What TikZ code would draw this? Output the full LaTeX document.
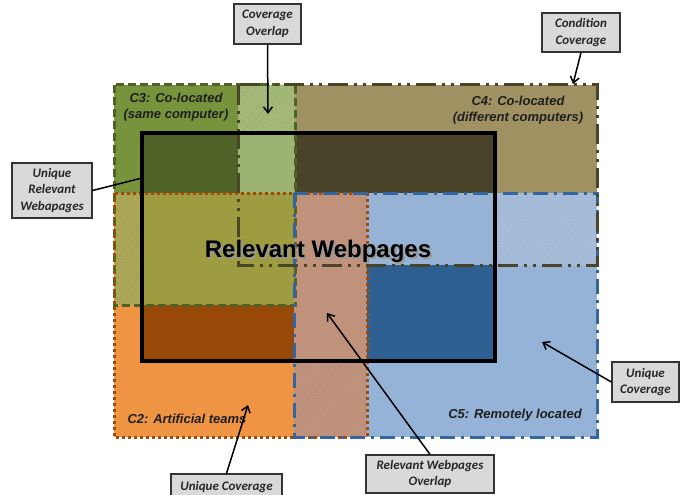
\documentclass[tikz,border=0pt]{standalone}
\usepackage{fontspec}
\setmainfont{Liberation Sans}
\newfontfamily\calibri{Carlito}
\usetikzlibrary{arrows.meta,patterns.meta}

% condition colours
\definecolor{cthree}{HTML}{77933C}
\definecolor{cthreein}{HTML}{4F6228}
\definecolor{cthreeline}{HTML}{4F6228}
\definecolor{cfour}{HTML}{9F9162}
\definecolor{cfourin}{HTML}{494429}
\definecolor{cfourline}{HTML}{4A4526}
\definecolor{ctwo}{HTML}{EE9443}
\definecolor{ctwoin}{HTML}{984807}
\definecolor{ctwoline}{HTML}{A04C08}
\definecolor{cfive}{HTML}{95B3D7}
\definecolor{cfivein}{HTML}{2D5F91}
\definecolor{cfiveline}{HTML}{3465A0}
% overlaps
\definecolor{ovthreefour}{HTML}{98AF66}
\definecolor{ovthreefourin}{HTML}{9AB16C}
\definecolor{ovtwothree}{HTML}{A39F48}
\definecolor{ovtwothreein}{HTML}{9C9A3C}
\definecolor{ovtwofive}{HTML}{BB8B73}
\definecolor{ovtwofivein}{HTML}{C0907A}
\definecolor{ovfourfive}{HTML}{9DB6D5}
\definecolor{ovfourfivein}{HTML}{94B2D5}
\definecolor{calloutfill}{HTML}{D9D9D9}
\definecolor{callouttext}{HTML}{262626}

\tikzset{
  hatchfill/.style={pattern={Lines[angle=45,distance=2pt,line width=0.5pt]},
                    pattern color=#1},
  dotfill/.style={pattern={Dots[distance=2pt,radius=0.45pt]}, pattern color=#1},
  cthreeedge/.style={line width=3pt, draw=cthreeline, dash pattern=on 8pt off 4pt},
  cfouredge/.style={line width=3pt, draw=cfourline,
      dash pattern=on 20pt off 6pt on 3pt off 6pt on 3pt off 6pt},
  ctwoedge/.style={line width=3pt, draw=ctwoline, dash pattern=on 3pt off 3pt},
  cfiveedge/.style={line width=3pt, draw=cfiveline,
      dash pattern=on 15pt off 6pt on 3pt off 6pt},
  rlabel/.style={font=\fontsize{13}{16.5}\selectfont\bfseries\itshape,
      align=center, text=black!88, inner sep=0pt},
  callout/.style={draw=black!80, line width=1.2pt, fill=calloutfill,
      font=\calibri\fontsize{13}{16.5}\selectfont\bfseries\itshape,
      text=callouttext, align=center, inner sep=0pt},
  pointer/.style={line width=1.5pt, -{Straight Barb[length=6pt,width=9pt]}},
  plainline/.style={line width=1.5pt},
}

% title with a soft drop shadow
\newcommand{\shadowtitle}[1]{%
  \rlap{\kern2pt\raisebox{-2pt}{\textcolor{black!40}{#1}}}#1}

\begin{document}
\begin{tikzpicture}[x=1pt,y=-1pt]
\useasboundingbox (0,0) rectangle (686,495);

% ---- condition areas ----
\fill[cfour] (238,85) rectangle (597,265);
\fill[cthree] (114,85) rectangle (238,193);
\fill[ovthreefour] (238,85) rectangle (295,193);
\fill[hatchfill=white!35!ovthreefour] (238,85) rectangle (295,193);
\fill[ctwo] (114,193) rectangle (367,437);
\fill[cfive] (294,193) rectangle (597,437);
\fill[ovtwothree] (114,193) rectangle (294,305);
\fill[hatchfill=white!25!ovtwothree] (114,193) rectangle (294,305);
\fill[ovtwofive] (294,193) rectangle (367,437);
\fill[hatchfill=white!18!ovtwofive] (294,193) rectangle (367,437);
\fill[ovfourfive] (367,193) rectangle (597,265);
\fill[hatchfill=white!25!ovfourfive] (367,193) rectangle (597,265);

% ---- the same areas within the relevant webpages ----
\begin{scope}
  \clip (142,133) rectangle (495,361);
  \fill[cthreein] (142,133) rectangle (238,193);
  \fill[ovthreefourin] (238,133) rectangle (295,193);
  \fill[dotfill=white!45!ovthreefourin] (238,133) rectangle (295,193);
  \fill[cfourin] (295,133) rectangle (495,193);
  \fill[ovtwothreein] (142,193) rectangle (294,305);
  \fill[dotfill=white!25!ovtwothreein] (142,193) rectangle (294,305);
  \fill[ctwoin] (142,305) rectangle (294,361);
  \fill[ovtwofivein] (294,193) rectangle (367,361);
  \fill[dotfill=white!15!ovtwofivein] (294,193) rectangle (367,361);
  \fill[ovfourfivein] (367,193) rectangle (495,265);
  \fill[dotfill=white!30!ovfourfivein] (367,193) rectangle (495,265);
  \fill[cfivein] (367,265) rectangle (495,361);
\end{scope}

% ---- condition borders ----
\draw[cthreeedge] (114,85) rectangle (295,305);
\draw[ctwoedge] (114,193) rectangle (367,437);
\draw[cfiveedge] (294,193) rectangle (597,437);
\draw[cfouredge] (238,85) rectangle (597,265);

% ---- relevant webpages ----
\node[draw=black, line width=4.5pt, minimum width=353pt, minimum height=228pt,
      inner sep=0pt] (rel) at (318.5,247) {};
\node[font=\fontsize{24}{28}\selectfont\bfseries, anchor=base] (reltitle)
      at (318,257) {\shadowtitle{Relevant Webpages}};

% ---- condition labels ----
\node[rlabel] (lthree) at (176,107) {C3: Co-located\\(same computer)};
\node[rlabel] (lfour) at (518,110) {C4: Co-located\\(different computers)};
\node[rlabel] (ltwo) at (187,419) {C2: Artificial teams};
\node[rlabel] (lfive) at (515,415) {C5: Remotely located};

% ---- callouts ----
\node[callout, minimum width=67pt, minimum height=40pt] (covov) at (267.5,24)
      {Coverage\\Overlap};
\node[callout, minimum width=78pt, minimum height=39pt] (condcov) at (581,32.5)
      {Condition\\Coverage};
\node[callout, minimum width=80pt, minimum height=55pt] (uniqrel) at (52,190.5)
      {Unique\\Relevant\\Webapages};
\node[callout, minimum width=67pt, minimum height=40pt] (uniqright) at (645.5,382)
      {Unique\\Coverage};
\node[callout, minimum width=111pt, minimum height=26pt] (uniqbottom) at (226.5,487)
      {Unique Coverage};
\node[callout, minimum width=128pt, minimum height=38pt] (relov) at (430,474)
      {Relevant Webpages\\Overlap};

% ---- pointer ends ----
\coordinate (covovtip) at (268,114);
\coordinate (condcovtip) at (573,84);
\coordinate (uniqreltip) at (142,178);
\coordinate (uniqrighttip) at (542,342);
\coordinate (uniqbottomtip) at (248,405);
\coordinate (relovtip) at (327,313);

\draw[pointer] (covov.south) -- (covovtip);
\draw[pointer] (condcov.south) -- (condcovtip);
\draw[plainline] (uniqrel.east) -- (uniqreltip);
\draw[pointer] (uniqright.west) -- (uniqrighttip);
\draw[pointer] (uniqbottom.north) -- (uniqbottomtip);
\draw[pointer] (relov.north) -- (relovtip);
\end{tikzpicture}
\end{document}
